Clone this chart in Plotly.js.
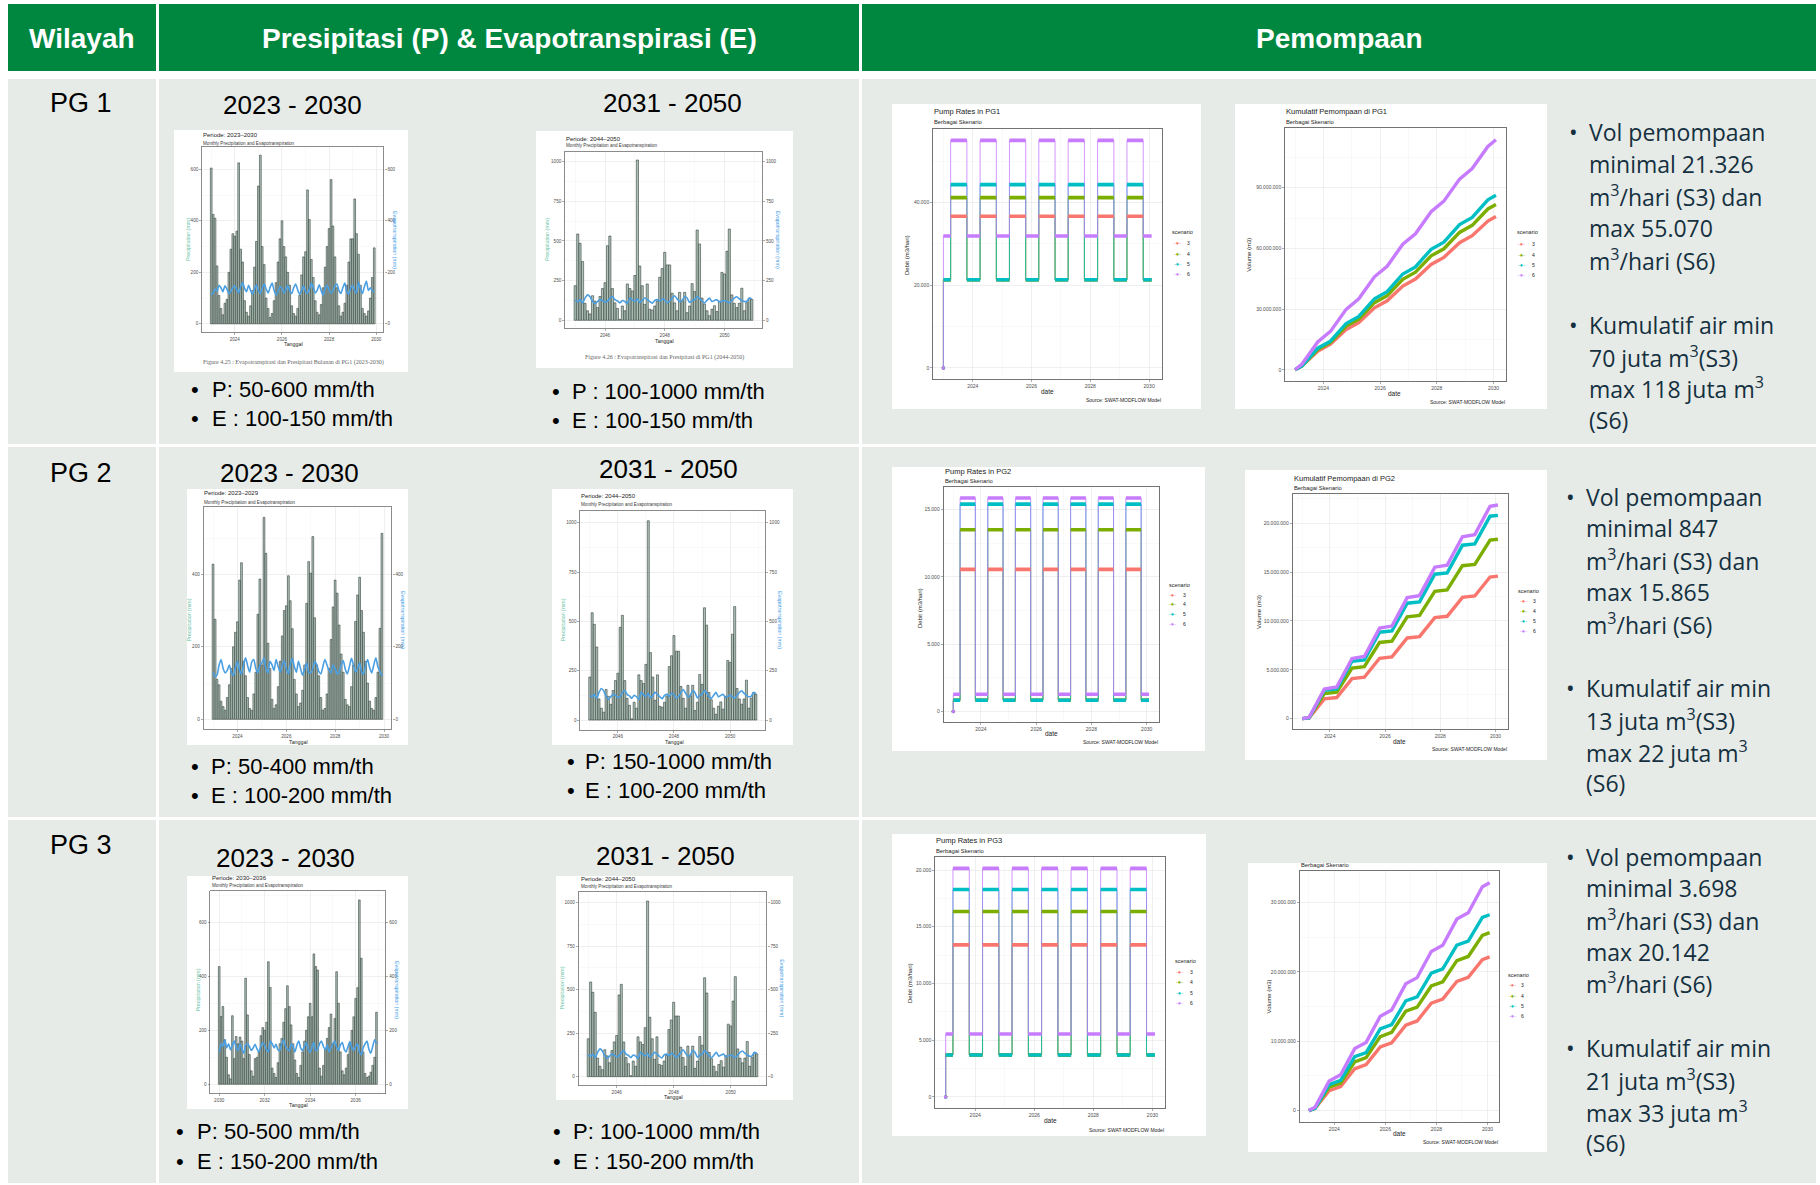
<!DOCTYPE html>
<html>
<head>
<meta charset="utf-8">
<script src="https://cdn.plot.ly/plotly-3.0.1.min.js"></script>
<style>
html,body{margin:0;padding:0;background:#ffffff;}
#chart{width:1820px;height:1185px;}
</style>
</head>
<body>
<div id="chart"></div>
<script>
// ====================== DATA ======================
const scenarioNames = ['3', '4', '5', '6'];
const scenarioColors = ['#F8766D', '#7CAE00', '#00BFC4', '#C77CFF'];

// pumping season switch dates (low -> high -> low ...)
const pumpStart = '2023-01-01';
const pumpSwitchDates = ['2023-04-01', '2023-10-20', '2024-04-01', '2024-10-20', '2025-04-01', '2025-10-20',
  '2026-04-01', '2026-10-20', '2027-04-01', '2027-10-20', '2028-04-01', '2028-10-20', '2029-04-01', '2029-10-20'];
const pumpEnd = '2030-02-01';

// pump rates (m3/hari) per scenario 3,4,5,6
const pg1RateLow  = [21326, 21326, 21326, 31920];
const pg1RateHigh = [36690, 41210, 44350, 55070];
const pg2RateLow  = [847, 847, 847, 1290];
const pg2RateHigh = [10564, 13502, 15408, 15865];
const pg3RateLow  = [3698, 3698, 3698, 5539];
const pg3RateHigh = [13400, 16343, 18286, 20142];

// cumulative pumping (juta m3) at start, each switch date, end
const pg1CumS3 = [0, 1.92, 9.17, 12.65, 19.90, 23.38, 30.63, 34.11, 41.36, 44.84, 52.09, 55.57, 62.82, 66.30, 73.55, 75.77];
const pg1CumS4 = [0, 1.92, 10.02, 13.50, 21.60, 25.08, 33.18, 36.66, 44.76, 48.24, 56.34, 59.82, 67.92, 71.40, 79.50, 81.72];
const pg1CumS5 = [0, 1.92, 10.67, 14.15, 22.90, 26.38, 35.13, 38.61, 47.36, 50.84, 59.59, 63.07, 71.82, 75.30, 84.05, 86.27];
const pg1CumS6 = [0, 2.87, 13.77, 18.97, 29.87, 35.07, 45.97, 51.17, 62.07, 67.27, 78.17, 83.37, 94.27, 99.47, 110.37, 113.69];

const pg2CumS3 = [0, 0.08, 2.02, 2.16, 4.10, 4.24, 6.18, 6.32, 8.26, 8.40, 10.34, 10.48, 12.42, 12.56, 14.50, 14.59];
const pg2CumS4 = [0, 0.08, 2.56, 2.70, 5.18, 5.32, 7.80, 7.94, 10.42, 10.56, 13.04, 13.18, 15.66, 15.80, 18.28, 18.37];
const pg2CumS5 = [0, 0.08, 2.91, 3.05, 5.88, 6.02, 8.85, 8.99, 11.82, 11.96, 14.79, 14.93, 17.76, 17.90, 20.73, 20.82];
const pg2CumS6 = [0, 0.12, 3.03, 3.24, 6.15, 6.36, 9.27, 9.48, 12.39, 12.60, 15.51, 15.72, 18.63, 18.84, 21.75, 21.88];

const pg3CumS3 = [0, 0.33, 2.88, 3.48, 6.03, 6.63, 9.18, 9.78, 12.33, 12.93, 15.48, 16.08, 18.63, 19.23, 21.78, 22.16];
const pg3CumS4 = [0, 0.33, 3.38, 3.98, 7.03, 7.63, 10.68, 11.28, 14.33, 14.93, 17.98, 18.58, 21.63, 22.23, 25.28, 25.66];
const pg3CumS5 = [0, 0.33, 3.75, 4.35, 7.77, 8.37, 11.79, 12.39, 15.81, 16.41, 19.83, 20.43, 23.85, 24.45, 27.87, 28.25];
const pg3CumS6 = [0, 0.50, 4.27, 5.17, 8.94, 9.84, 13.61, 14.51, 18.28, 19.18, 22.95, 23.85, 27.62, 28.52, 32.29, 32.87];

// monthly precipitation (mm) and evapotranspiration (mm)
const pg1A_P = [605, 425, 410, 225, 110, 60, 35, 80, 95, 200, 290, 350,
  340, 360, 625, 290, 240, 90, 45, 30, 70, 130, 220, 320,
  535, 655, 300, 230, 100, 60, 25, 40, 90, 160, 240, 330,
  400, 300, 260, 200, 150, 70, 40, 30, 60, 110, 190, 260,
  280, 520, 405, 250, 180, 90, 45, 35, 75, 140, 220, 300,
  370, 560, 380, 260, 140, 70, 30, 45, 80, 150, 240, 330,
  330, 485, 350, 270, 150, 60, 40, 30, 50, 100, 180, 295];
const pg1A_E = [112, 120, 135, 128, 150, 140, 125, 148, 135, 118, 126, 140,
  150, 132, 120, 145, 160, 138, 125, 150, 130, 115, 135, 152,
  128, 118, 140, 155, 135, 120, 142, 158, 130, 112, 126, 145,
  138, 120, 132, 150, 128, 118, 140, 155, 132, 115, 130, 148,
  125, 118, 135, 158, 140, 120, 130, 152, 128, 112, 138, 150,
  132, 120, 128, 148, 155, 130, 118, 140, 158, 125, 115, 140,
  150, 128, 120, 160, 135, 118, 145, 165, 130, 140, 128, 125];

const pg2A_P = [428, 276, 110, 95, 50, 35, 25, 60, 95, 140, 200, 240,
  269, 384, 432, 160, 120, 60, 30, 25, 70, 130, 290, 387,
  150, 557, 458, 210, 140, 55, 30, 40, 90, 160, 230, 300,
  313, 396, 327, 250, 110, 70, 35, 45, 80, 150, 320, 435,
  403, 504, 280, 150, 120, 60, 25, 30, 70, 140, 220, 310,
  384, 348, 260, 180, 130, 55, 40, 35, 90, 150, 270, 343,
  392, 300, 240, 160, 100, 50, 30, 25, 60, 130, 251, 513];
const pg2A_E = [130, 118, 122, 150, 165, 140, 128, 135, 150, 130, 120, 142,
  160, 135, 125, 150, 170, 148, 130, 158, 165, 140, 128, 150,
  155, 170, 140, 128, 160, 150, 135, 165, 145, 130, 150, 162,
  140, 125, 150, 168, 145, 130, 160, 140, 122, 138, 155, 130,
  128, 140, 160, 150, 132, 125, 145, 165, 150, 135, 128, 150,
  140, 125, 130, 150, 162, 138, 125, 145, 168, 150, 130, 140,
  155, 130, 125, 148, 165, 142, 128, 150, 170, 145, 132, 120];

const pg3A_P = [436, 251, 288, 165, 100, 35, 20, 254, 95, 177, 150, 175,
  160, 95, 393, 257, 110, 50, 30, 95, 100, 120, 180, 210,
  200, 230, 454, 359, 60, 40, 25, 80, 150, 170, 230, 280,
  365, 288, 220, 150, 90, 40, 25, 70, 120, 160, 200, 250,
  300, 250, 483, 436, 423, 60, 30, 70, 130, 170, 210, 260,
  150, 244, 417, 300, 120, 50, 35, 60, 110, 150, 200, 250,
  318, 358, 683, 467, 120, 40, 25, 30, 45, 70, 100, 267];
const pg3A_E = [120, 150, 140, 165, 135, 150, 128, 145, 160, 135, 125, 150,
  130, 115, 145, 150, 140, 125, 135, 148, 130, 120, 140, 155,
  145, 128, 120, 160, 150, 135, 148, 128, 125, 150, 165, 140,
  130, 125, 150, 140, 120, 145, 160, 135, 125, 140, 155, 130,
  118, 140, 155, 125, 130, 150, 160, 140, 128, 145, 120, 135,
  150, 160, 138, 125, 145, 155, 130, 120, 140, 158, 135, 125,
  140, 150, 120, 110, 135, 150, 160, 130, 115, 140, 165, 150];

// 2045-2050 (same figure in all PG)
const pgB_P = [218, 544, 485, 370, 107, 60, 40, 155, 120, 80, 150, 200,
  237, 470, 531, 200, 110, 75, 6, 90, 60, 229, 200, 185,
  282, 1010, 342, 218, 100, 229, 70, 65, 90, 122, 271, 326,
  428, 349, 349, 170, 110, 60, 176, 120, 176, 48, 90, 231,
  181, 569, 481, 140, 103, 60, 29, 70, 92, 55, 120, 302,
  292, 435, 575, 160, 107, 80, 107, 202, 60, 111, 139, 132];
const pgB_E = [125, 118, 130, 110, 140, 160, 148, 120, 105, 118, 130, 125,
  115, 120, 140, 150, 130, 122, 110, 125, 118, 105, 140, 128,
  120, 135, 112, 125, 140, 130, 118, 108, 125, 130, 120, 135,
  128, 110, 120, 140, 155, 135, 118, 125, 150, 140, 112, 125,
  130, 150, 138, 120, 110, 125, 140, 118, 125, 130, 115, 120,
  125, 118, 110, 125, 140, 148, 135, 125, 118, 120, 140, 135];

// text content
const headerLabels = ['Wilayah', 'Presipitasi (P) &amp; Evapotranspirasi (E)', 'Pemompaan'];
const regionLabels = ['PG 1', 'PG 2', 'PG 3'];
const periodA = '2023 - 2030';
const periodB = '2031 - 2050';
const precipNotes = [
  ['P: 50-600 mm/th', 'E : 100-150 mm/th', 'P : 100-1000 mm/th', 'E : 100-150 mm/th'],
  ['P: 50-400 mm/th', 'E : 100-200 mm/th', 'P: 150-1000 mm/th', 'E : 100-200 mm/th'],
  ['P: 50-500 mm/th', 'E : 150-200 mm/th', 'P: 100-1000 mm/th', 'E : 150-200 mm/th']];
const pumpNotes = [
  [['Vol pemompaan', 'minimal 21.326', 'm<sup>3</sup>/hari (S3) dan', 'max 55.070', 'm<sup>3</sup>/hari (S6)'],
   ['Kumulatif air min', '70 juta m<sup>3</sup>(S3)', 'max 118 juta m<sup>3</sup>', '(S6)']],
  [['Vol pemompaan', 'minimal 847', 'm<sup>3</sup>/hari (S3) dan', 'max 15.865', 'm<sup>3</sup>/hari (S6)'],
   ['Kumulatif air min', '13 juta m<sup>3</sup>(S3)', 'max 22 juta m<sup>3</sup>', '(S6)']],
  [['Vol pemompaan', 'minimal 3.698', 'm<sup>3</sup>/hari (S3) dan', 'max 20.142', 'm<sup>3</sup>/hari (S6)'],
   ['Kumulatif air min', '21 juta m<sup>3</sup>(S3)', 'max 33 juta m<sup>3</sup>', '(S6)']]];

// ====================== HELPERS ======================
const W = 1820, H = 1185;
const DAY = 86400000;
const SANS = 'Liberation Sans, Arial, sans-serif';
const SERIF = 'Liberation Serif, Times New Roman, serif';
const OPEN = 'Open Sans, Liberation Sans, sans-serif';
const GREEN = '#00873F';
const CELL = '#E6EBE7';
const MINOR = '#F3F3F3';
const MAJOR = '#E4E4E4';

const fx = p => p / W;
const fy = p => 1 - p / H;
const ms = d => Date.parse(d + 'T00:00:00Z');

function monthList(y0, y1) {
  const out = [];
  for (let y = y0; y <= y1; y++) for (let m = 1; m <= 12; m++) out.push(y + '-' + String(m).padStart(2, '0') + '-01');
  return out;
}

const traces = [];
const shapes = [];
const annotations = [];
const layout = {
  width: W, height: H, margin: {l: 0, r: 0, t: 0, b: 0},
  paper_bgcolor: '#ffffff', plot_bgcolor: 'rgba(0,0,0,0)',
  showlegend: false, hovermode: false, separators: ',.',
  bargap: 0.06, font: {family: SANS, size: 6, color: '#333'}
};

let xN = 0, yN = 0;
function newX() { xN++; const s = xN === 1 ? '' : String(xN); return {id: 'x' + s, key: 'xaxis' + s}; }
function newY() { yN++; const s = yN === 1 ? '' : String(yN); return {id: 'y' + s, key: 'yaxis' + s}; }

function rect(x0, x1, y0, y1, fill) {
  shapes.push({type: 'rect', xref: 'paper', yref: 'paper', x0: fx(x0), x1: fx(x1), y0: fy(y1), y1: fy(y0),
    fillcolor: fill, line: {width: 0}, layer: 'below'});
}
function T(text, x, y, o) {
  o = o || {};
  annotations.push({text: text, x: fx(x), y: fy(y), xref: 'paper', yref: 'paper', showarrow: false,
    xanchor: o.xa || 'left', yanchor: o.ya || 'middle', textangle: o.rot || 0, borderpad: 0,
    font: {family: o.family || SANS, size: o.size || 10, color: o.color || '#000000', weight: o.weight || 400}});
}
function axBase(extra) {
  return Object.assign({
    showline: true, mirror: true, linecolor: '#6e6e6e', linewidth: 0.8,
    ticks: 'outside', ticklen: 2, tickwidth: 0.5, tickcolor: '#555',
    tickfont: {family: SANS, size: 5, color: '#4d4d4d'},
    showgrid: true, gridcolor: MAJOR, gridwidth: 0.6, zeroline: false, fixedrange: true,
    exponentformat: 'none'
  }, extra);
}

// ====================== PRECIPITATION CHARTS ======================
function addPrecip(c) {
  const X = newX(), Y = newY(), Y2 = newY();
  const t0 = ms(c.months[0]) - 15.2 * DAY, t1 = ms(c.months[c.months.length - 1]) + 15.2 * DAY;
  const sp = t1 - t0;
  const pmax = Math.max.apply(null, c.P);
  const yr = [-0.05 * pmax, 1.05 * pmax];
  const tf = {family: SANS, size: 4.6, color: '#4d4d4d'};
  rect(c.box[0], c.box[1], c.box[2], c.box[3], '#ffffff');
  layout[X.key] = axBase({type: 'date', domain: [fx(c.panel[0]), fx(c.panel[1])], range: [t0 - 0.05 * sp, t1 + 0.05 * sp],
    anchor: Y.id, tickformat: '%Y', dtick: 'M24', tick0: c.tick0, tickfont: tf,
    minor: {dtick: 'M12', tick0: c.tick0, showgrid: true, gridcolor: MINOR, gridwidth: 0.5}});
  layout[Y.key] = axBase({domain: [fy(c.panel[3]), fy(c.panel[2])], range: yr, anchor: X.id, dtick: c.dtick, tickfont: tf,
    minor: {dtick: c.dtick / 2, showgrid: true, gridcolor: MINOR, gridwidth: 0.5}});
  layout[Y2.key] = axBase({overlaying: Y.id, side: 'right', range: yr, anchor: X.id, dtick: c.dtick, tickfont: tf,
    showgrid: false, showline: false, mirror: false});
  traces.push({type: 'bar', x: c.months, y: c.P, xaxis: X.id, yaxis: Y.id,
    marker: {color: '#AFC3B9', line: {color: '#26342E', width: 0.55}}});
  traces.push({type: 'scatter', mode: 'lines', x: c.months, y: c.E, xaxis: X.id, yaxis: Y2.id,
    line: {color: '#4A9FE3', width: 1.6, shape: 'spline', smoothing: 0.6}});
  T(c.title, c.titlePos[0], c.titlePos[1], {size: 6, color: '#222'});
  T('Monthly Precipitation and Evapotranspiration', c.subPos[0], c.subPos[1], {size: 4.6, color: '#3a3a3a'});
  T('Precipitation (mm)', c.ylab[0], c.ylab[2], {xa: 'center', rot: -90, size: 5.3, color: '#6CC3A8'});
  T('Evapotranspiration (mm)', c.ylab[1], c.ylab[2], {xa: 'center', rot: 90, size: 5.3, color: '#3E9BE6'});
  T('Tanggal', c.tgl[0], c.tgl[1], {xa: 'center', size: 5.3, color: '#222'});
  if (c.caption) T(c.caption, c.capPos[0], c.capPos[1], {xa: 'center', size: 6, family: SERIF, color: '#666'});
}

const monthsA = monthList(2023, 2029);
const monthsA3 = monthList(2030, 2036);
const monthsB = monthList(2045, 2050);

addPrecip({months: monthsA, P: pg1A_P, E: pg1A_E, box: [174, 408, 130, 372], panel: [202, 383.5, 146.7, 332.3],
  dtick: 200, tick0: '2024-01-01', title: 'Periode: 2023–2030', titlePos: [202, 135], subPos: [202, 143],
  ylab: [188, 395, 240], tgl: [293, 343.5],
  caption: 'Figure 4.25 : Evapotranspirasi dan Presipitasi Bulanan di PG1 (2023-2030)', capPos: [293, 362]});
addPrecip({months: monthsB, P: pgB_P, E: pgB_E, box: [536, 793, 131, 368], panel: [565, 762, 152, 328.3],
  dtick: 250, tick0: '2046-01-01', title: 'Periode: 2044–2050', titlePos: [565, 139.3], subPos: [565, 145.7],
  ylab: [547, 778.3, 240], tgl: [664.3, 340.5],
  caption: 'Figure 4.26 : Evapotranspirasi dan Presipitasi di PG1 (2044-2050)', capPos: [664, 357.7]});
addPrecip({months: monthsA, P: pg2A_P, E: pg2A_E, box: [187, 408, 489, 745], panel: [203.5, 391.5, 507.3, 729.4],
  dtick: 200, tick0: '2024-01-01', title: 'Periode: 2023–2029', titlePos: [203, 493.3], subPos: [203, 502.3],
  ylab: [188.5, 403, 620], tgl: [298, 741.5]});
addPrecip({months: monthsB, P: pgB_P, E: pgB_E, box: [552, 793, 489, 745], panel: [580.2, 765.4, 510.8, 730],
  dtick: 250, tick0: '2046-01-01', title: 'Periode: 2044–2050', titlePos: [580.4, 495.7], subPos: [580.4, 504.3],
  ylab: [562.5, 780, 620], tgl: [674.7, 741.5]});
addPrecip({months: monthsA3, P: pg3A_P, E: pg3A_E, box: [187, 408, 876, 1109], panel: [210.3, 385.4, 890.7, 1093.5],
  dtick: 200, tick0: '2030-01-01', title: 'Periode: 2030–2036', titlePos: [210.6, 878], subPos: [210.6, 885.7],
  ylab: [197.5, 397, 990], tgl: [298, 1104.5]});
addPrecip({months: monthsB, P: pgB_P, E: pgB_E, box: [556, 793, 876, 1100], panel: [578.5, 766.5, 892.2, 1085.5],
  dtick: 250, tick0: '2046-01-01', title: 'Periode: 2044–2050', titlePos: [579.8, 879], subPos: [579.8, 886.7],
  ylab: [561.5, 781.7, 988], tgl: [673, 1096.5]});

// ====================== PUMP CHARTS ======================
const pumpBounds = [pumpStart].concat(pumpSwitchDates, [pumpEnd]);
const tp0 = ms(pumpStart), tp1 = ms(pumpEnd), tpSpan = tp1 - tp0;
const pumpXRange = [tp0 - 0.05 * tpSpan, tp1 + 0.05 * tpSpan];

function pumpAxes(c, ymax) {
  const X = newX(), Y = newY();
  rect(c.box[0], c.box[1], c.box[2], c.box[3], '#ffffff');
  layout[X.key] = axBase({type: 'date', domain: [fx(c.panel[0]), fx(c.panel[1])], range: pumpXRange, anchor: Y.id,
    tickformat: '%Y', dtick: 'M24', tick0: '2024-01-01', linecolor: '#505050',
    minor: {dtick: 'M12', tick0: '2023-01-01', showgrid: true, gridcolor: MINOR, gridwidth: 0.5}});
  layout[Y.key] = axBase({domain: [fy(c.panel[3]), fy(c.panel[2])], range: [-0.05 * ymax, 1.05 * ymax], anchor: X.id,
    dtick: c.dtick, separatethousands: true, tickformat: ',d', linecolor: '#505050',
    minor: {dtick: c.dtick / 2, showgrid: true, gridcolor: MINOR, gridwidth: 0.5}});
  if (c.title) T(c.title, c.titlePos[0], c.titlePos[1], {size: 7.5, color: '#222'});
  T('Berbagai Skenario', c.subPos[0], c.subPos[1], {size: 5.8, color: '#222'});
  T(c.ytitle, c.ylab[0], c.ylab[1], {xa: 'center', rot: -90, size: 6, color: '#222'});
  T('date', c.dateLab[0], c.dateLab[1], {xa: 'center', size: 6.5, color: '#222'});
  T('Source: SWAT-MODFLOW Model', c.src[0], c.src[1], {xa: 'right', size: 5, color: '#222'});
  const lg = c.legend;
  T('scenario', lg.tx, lg.ty, {size: 5.5, color: '#222'});
  scenarioNames.forEach((s, i) => {
    T('-●-', lg.kx, lg.items[i], {xa: 'center', size: 5.5, color: scenarioColors[i]});
    T(s, lg.lx, lg.items[i], {size: 5, color: '#222'});
  });
  return {X: X, Y: Y};
}

function addPump(c) {
  const ymax = Math.max.apply(null, c.high);
  const ax = pumpAxes(c, ymax);
  const level = (i, k) => (k % 2 === 0 ? c.low[i] : c.high[i]);
  // thin connecting step lines
  scenarioNames.forEach((s, i) => {
    const xs = [pumpStart, pumpStart], ys = [0, c.low[i]];
    pumpSwitchDates.forEach((d, k) => { xs.push(d); ys.push(level(i, k + 1)); });
    xs.push(pumpEnd); ys.push(level(i, pumpSwitchDates.length));
    traces.push({type: 'scatter', mode: 'lines', x: xs, y: ys, xaxis: ax.X.id, yaxis: ax.Y.id,
      line: {shape: 'hv', width: 0.8, color: scenarioColors[i]}});
  });
  // thick plateaus (daily points)
  scenarioNames.forEach((s, i) => {
    const xs = [], ys = [];
    for (let k = 0; k < pumpBounds.length - 1; k++) {
      xs.push(pumpBounds[k], pumpBounds[k + 1], null);
      ys.push(level(i, k), level(i, k), null);
    }
    traces.push({type: 'scatter', mode: 'lines', x: xs, y: ys, xaxis: ax.X.id, yaxis: ax.Y.id,
      line: {width: 3.6, color: scenarioColors[i]}});
    traces.push({type: 'scatter', mode: 'markers', x: [pumpStart], y: [0], xaxis: ax.X.id, yaxis: ax.Y.id,
      marker: {size: 3.5, color: scenarioColors[i]}});
  });
}

function addCum(c) {
  const series = c.series.map(a => a.map(v => v * 1e6));
  const ymax = Math.max.apply(null, series.map(a => Math.max.apply(null, a)));
  const ax = pumpAxes(c, ymax);
  series.forEach((ys, i) => {
    traces.push({type: 'scatter', mode: 'lines', x: pumpBounds, y: ys, xaxis: ax.X.id, yaxis: ax.Y.id,
      line: {width: 3.4, color: scenarioColors[i]}});
  });
}

addPump({low: pg1RateLow, high: pg1RateHigh, box: [892, 1201, 104, 409], panel: [933, 1162, 129, 379.3], dtick: 20000,
  title: 'Pump Rates in PG1', titlePos: [933, 111.7], subPos: [933, 122], ytitle: 'Debit (m3/hari)', ylab: [907, 255],
  dateLab: [1047, 391.7], src: [1162, 400],
  legend: {tx: 1171, ty: 232, items: [243, 254, 264, 274], kx: 1177, lx: 1186}});
addCum({series: [pg1CumS3, pg1CumS4, pg1CumS5, pg1CumS6], box: [1235, 1547, 104, 409], panel: [1285, 1506, 128.3, 381.3],
  dtick: 30e6, title: 'Kumulatif Pemompaan di PG1', titlePos: [1285, 111.7], subPos: [1285, 122],
  ytitle: 'Volume (m3)', ylab: [1248.7, 255], dateLab: [1394, 393], src: [1506, 402.3],
  legend: {tx: 1515.5, ty: 232, items: [244.3, 254.7, 265, 275.3], kx: 1521.5, lx: 1530.5}});
addPump({low: pg2RateLow, high: pg2RateHigh, box: [892, 1205, 467, 751], panel: [943.5, 1158.8, 487.3, 722.3], dtick: 5000,
  title: 'Pump Rates in PG2', titlePos: [943.5, 471], subPos: [943.5, 480.7], ytitle: 'Debit (m3/hari)', ylab: [920, 608],
  dateLab: [1051, 733.7], src: [1158.8, 742],
  legend: {tx: 1167.8, ty: 584.7, items: [594.7, 604.3, 614, 623.7], kx: 1172.5, lx: 1181.6}});
addCum({series: [pg2CumS3, pg2CumS4, pg2CumS5, pg2CumS6], box: [1245, 1547, 470, 760], panel: [1292.5, 1507.7, 494.3, 729.3],
  dtick: 5e6, title: 'Kumulatif Pemompaan di PG2', titlePos: [1292.5, 478], subPos: [1292.5, 488],
  ytitle: 'Volume (m3)', ylab: [1259, 612], dateLab: [1399, 741], src: [1507.7, 749.3],
  legend: {tx: 1517.3, ty: 591.3, items: [601.3, 611.3, 621.3, 631], kx: 1523, lx: 1531.7}});
addPump({low: pg3RateLow, high: pg3RateHigh, box: [892, 1206, 834, 1136], panel: [935.2, 1165.4, 857, 1108.3], dtick: 5000,
  title: 'Pump Rates in PG3', titlePos: [935.2, 840], subPos: [935.2, 850.7], ytitle: 'Debit (m3/hari)', ylab: [910, 983],
  dateLab: [1050.3, 1120.7], src: [1165.4, 1129.7],
  legend: {tx: 1173.8, ty: 960.7, items: [972, 982.3, 993, 1003], kx: 1179.8, lx: 1189.4}});
addCum({series: [pg3CumS3, pg3CumS4, pg3CumS5, pg3CumS6], box: [1248, 1547, 863, 1152], panel: [1299.7, 1498.7, 871.3, 1122],
  dtick: 10e6, title: '', subPos: [1299.7, 864.7],
  ytitle: 'Volume (m3)', ylab: [1268.5, 997], dateLab: [1399.2, 1133.3], src: [1498.7, 1142.3],
  legend: {tx: 1506.5, ty: 974.7, items: [985.3, 995.7, 1006, 1016.3], kx: 1512.5, lx: 1520.3}});

// ====================== TABLE FRAME & TEXT ======================
const tableShapes = [];
function trect(x0, x1, y0, y1, fill) {
  tableShapes.push({type: 'rect', xref: 'paper', yref: 'paper', x0: fx(x0), x1: fx(x1), y0: fy(y1), y1: fy(y0),
    fillcolor: fill, line: {width: 0}, layer: 'below'});
}
const colX = [[8, 156], [159, 859], [862, 1816]];
const rowY = [[79, 444], [447, 817], [820, 1183]];
colX.forEach(c => trect(c[0], c[1], 4, 71, GREEN));
rowY.forEach(r => colX.forEach(c => trect(c[0], c[1], r[0], r[1], CELL)));

T(headerLabels[0], 82, 39, {xa: 'center', size: 28, color: '#ffffff', weight: 700});
T(headerLabels[1], 509, 39, {xa: 'center', size: 28, color: '#ffffff', weight: 700});
T(headerLabels[2], 1339, 39, {xa: 'center', size: 28, color: '#ffffff', weight: 700});

const regionY = [103, 473, 845];
regionLabels.forEach((t, i) => T(t, 81, regionY[i], {xa: 'center', size: 27}));

const periodPos = [[292, 105, 672, 103.4], [289, 472.5, 668, 469], [285, 857.5, 665, 856]];
periodPos.forEach(p => { T(periodA, p[0], p[1], {xa: 'center', size: 26}); T(periodB, p[2], p[3], {xa: 'center', size: 26}); });

const notePos = [
  [[195, 210.7, 389, 418.3], [555.7, 571, 391, 420]],
  [[194.7, 210, 766, 795], [570.5, 584, 761.7, 790]],
  [[180, 195.8, 1131.7, 1161], [556.8, 571.6, 1131.7, 1161]]];
precipNotes.forEach((n, r) => {
  [0, 1].forEach(side => {
    const p = notePos[r][side];
    T('•', p[0], p[2], {xa: 'center', size: 22});
    T(n[side * 2], p[1], p[2], {size: 22});
    T('•', p[0], p[3], {xa: 'center', size: 22});
    T(n[side * 2 + 1], p[1], p[3], {size: 22});
  });
});

const pumpNotePos = [
  {bx: 1573, tx: 1588, g1: [132, 164, 196, 228, 259.5], g2: [325, 356.5, 388.5, 420]},
  {bx: 1570.6, tx: 1584.5, g1: [496.7, 528.3, 560, 592.3, 624.3], g2: [688.3, 720, 751.7, 783.3]},
  {bx: 1570.6, tx: 1584.5, g1: [856.7, 888.3, 920, 951.7, 983.3], g2: [1048.3, 1080, 1111.7, 1143.3]}];
const NOTE_COLOR = '#15303F';
pumpNotes.forEach((groups, r) => {
  const p = pumpNotePos[r];
  [p.g1, p.g2].forEach((ys, g) => {
    T('•', p.bx, ys[0], {xa: 'center', size: 23, family: OPEN, color: NOTE_COLOR});
    groups[g].forEach((line, j) => T(line, p.tx, ys[j], {size: 23, family: OPEN, color: NOTE_COLOR}));
  });
});

layout.shapes = tableShapes.concat(shapes);
layout.annotations = annotations;

Plotly.newPlot('chart', traces, layout, {staticPlot: true, displayModeBar: false});
</script>
</body>
</html>
